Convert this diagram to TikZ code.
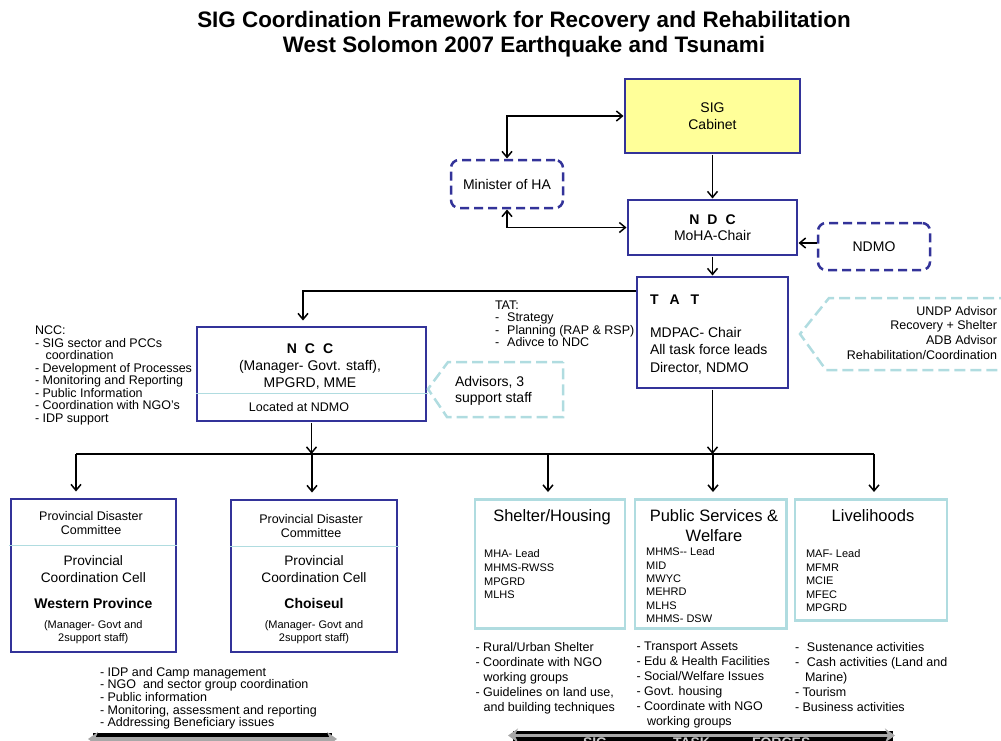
\documentclass[tikz,border=0pt]{standalone}
\usepackage{fontspec}
\setmainfont{Liberation Sans}
\usetikzlibrary{positioning,arrows.meta,calc}
\definecolor{ncblue}{HTML}{333399}
\definecolor{tfblue}{HTML}{B0DCE0}
\definecolor{cabyellow}{HTML}{FFFF99}
\definecolor{bargray}{HTML}{A8A8A8}
\definecolor{tflabel}{HTML}{C8C8C8}
\newcommand{\fsz}[2]{\fontsize{#1}{#2}\selectfont}

\begin{document}
\begin{tikzpicture}[x=1pt,y=-1pt,>={Straight Barb[length=6pt,width=10pt]},
   every node/.style={inner sep=0pt,outer sep=0pt},
   orgbox/.style={draw=ncblue,line width=2.5pt,outer sep=1.5pt},
   dashbox/.style={draw=ncblue,line width=2.5pt,dash pattern=on 9pt off 5pt,
      rounded corners=8pt,outer sep=1.5pt},
   tfbox/.style={draw=tfblue,line width=2.5pt,outer sep=1.5pt},
   advline/.style={draw=tfblue,line width=2.5pt,dash pattern=on 11pt off 5pt},
   divider/.style={draw=tfblue,line width=1pt},
   conn/.style={line width=1.5pt},
   graybar/.style={draw=bargray,line width=3.5pt,
      arrows={Stealth[length=10pt,width=14pt]-Stealth[length=10pt,width=14pt]}}]
  \useasboundingbox (0,0) rectangle (1001,740);
  \clip (0,0) rectangle (1001,740);

  \node (title) [anchor=north,align=center,font=\fsz{22.4}{25}\bfseries] at (524,11)
    {SIG Coordination Framework for Recovery and Rehabilitation\\West Solomon 2007 Earthquake and Tsunami};

  \node (cab) [orgbox,fill=cabyellow,minimum width=175pt,minimum height=74pt,
    align=center,font=\fsz{14}{17}] at (712.5,116) {SIG\\Cabinet};
  \node (mha) [dashbox,minimum width=112pt,minimum height=48pt,font=\fsz{14}{17}]
    at (507,184) {Minister of HA};
  \node (ndc) [orgbox,minimum width=169pt,minimum height=55pt,align=center,
    font=\fsz{14}{16}] at (712.5,227.5) {\textbf{N\hspace{8pt}D\hspace{8pt}C}\\MoHA-Chair};
  \node (ndmo) [dashbox,minimum width=112pt,minimum height=47pt,font=\fsz{14}{17}]
    at (874,246.5) {NDMO};
  \node (tat) [orgbox,minimum width=151pt,minimum height=111pt] at (712.5,332.5) {};
  \node (tattxt) [anchor=north west,align=left,font=\fsz{14}{17.5}] at (650,295)
    {\textbf{T\hspace{11pt}A\hspace{11pt}T}\\[15pt]MDPAC- Chair\\All task force leads\\Director, NDMO};

  \node (ncc) [orgbox,minimum width=229pt,minimum height=94pt] at (311.5,374) {};
  \node (ncctxt) [anchor=north,align=center,font=\fsz{14}{17}] at (310,343.8)
    {\textbf{N\hspace{8pt}C\hspace{8pt}C}\\(Manager- Govt. staff),\\MPGRD, MME};
  \draw[divider] (ncc.west |- 0,393) -- (ncc.east |- 0,393);
  \node (nccloc) [anchor=north,font=\fsz{12.5}{15}] at (299,402.1) {Located at NDMO};

  \draw[advline] (563,362) -- (448,362) -- (428,389) -- (447,417) -- (563,417) -- cycle;
  \node (nccadv) [anchor=north west,align=left,font=\fsz{14}{16}] at (455,376.5)
    {Advisors, 3\\support staff};
  \draw[advline] (1010,298) -- (829,298) -- (800,334) -- (826,370) -- (1010,370);
  \node (tatadv) [anchor=north east,align=right,font=\fsz{12.5}{14.9}] at (997,306)
    {UNDP Advisor\\Recovery + Shelter\\ADB Advisor\\Rehabilitation/Coordination};

  \node (ncclist) [anchor=north west,align=left,font=\fsz{12.5}{12.5}] at (35,326.1)
    {NCC:\\- SIG sector and PCCs\\\hspace*{10.5pt}coordination\\- Development of Processes\\- Monitoring and Reporting\\- Public Information\\- Coordination with NGO’s\\- IDP support};
  \node (tatlist) [anchor=north west,align=left,font=\fsz{12.5}{12.6}] at (495,300.4)
    {TAT:\\-\hspace{8pt}Strategy\\-\hspace{8pt}Planning (RAP \& RSP)\\-\hspace{8pt}Adivce to NDC};

  \coordinate (tatbend) at (303,291);
  \draw[conn,<->] (mha.north) |- (cab.west);
  \draw[conn,<->] (mha.south) |- (ndc.west);
  \draw[conn,->] (cab) -- (ndc);
  \draw[conn,->] (ndmo.west |- 0,243) -- (ndc.east |- 0,243);
  \draw[conn,->] (ndc) -- (tat);
  \draw[conn,->,shorten >=5pt] (tat.west |- tatbend) -| (ncc.north -| tatbend);

  \node (pwest) [orgbox,minimum width=165pt,minimum height=153pt] at (93.3,575.5) {};
  \node (pchoi) [orgbox,minimum width=166pt,minimum height=152pt] at (314.2,576) {};
  \node (shel) [tfbox,minimum width=150pt,minimum height=129pt] at (550,564) {};
  \node (pubs) [tfbox,minimum width=151.5pt,minimum height=129pt] at (710.5,564) {};
  \node (live) [tfbox,minimum width=152pt,minimum height=121pt] at (871,560) {};

  \coordinate (busw) at (76,454);
  \coordinate (busc) at (312,454);
  \coordinate (buss) at (548,454);
  \coordinate (busp) at (713,454);
  \coordinate (buse) at (874,454);
  \draw[conn] (busw) -- (buse);
  \draw[conn,->] (ncc.south) -- (ncc.south |- busw);
  \draw[conn,->] (tat.south) -- (tat.south |- busw);
  \draw[conn,->,shorten >=6pt] (busw) -- (pwest.north -| busw);
  \draw[conn,->,shorten >=6pt] (busc) -- (pchoi.north -| busc);
  \draw[conn,->,shorten >=6pt] (buss) -- (shel.north -| buss);
  \draw[conn,->,shorten >=6pt] (busp) -- (pubs.north -| busp);
  \draw[conn,->,shorten >=6pt] (buse) -- (live.north -| buse);

  \node (pwpdc) [anchor=north,align=center,font=\fsz{12.5}{14}] at (91,511.1)
    {Provincial Disaster\\Committee};
  \draw[divider] (pwest.west |- 0,545) -- (pwest.east |- 0,545);
  \node (pwpcc) [anchor=north,align=center,font=\fsz{13.7}{16.3}] at (93.3,555.9)
    {Provincial\\Coordination Cell};
  \node (pwname) [anchor=north,font=\fsz{14}{16}\bfseries] at (93.3,598.1) {Western Province};
  \node (pwstaff) [anchor=north,align=center,font=\fsz{11}{13.4}] at (93.3,620.2)
    {(Manager- Govt and\\2support staff)};

  \node (pcpdc) [anchor=north,align=center,font=\fsz{12.5}{14.3}] at (311,514.4)
    {Provincial Disaster\\Committee};
  \draw[divider] (pchoi.west |- 0,546) -- (pchoi.east |- 0,546);
  \node (pcpcc) [anchor=north,align=center,font=\fsz{13.7}{16.3}] at (314,555.9)
    {Provincial\\Coordination Cell};
  \node (pcname) [anchor=north,font=\fsz{14}{16}\bfseries] at (314,598.1) {Choiseul};
  \node (pcstaff) [anchor=north,align=center,font=\fsz{11}{13.4}] at (314,620.2)
    {(Manager- Govt and\\2support staff)};

  \node (sheltitle) [anchor=north,font=\fsz{16.5}{20}] at (552,509.9) {Shelter/Housing};
  \node (pubtitle) [anchor=north,align=center,font=\fsz{16.5}{20}] at (714,509.9)
    {Public Services \&\\Welfare};
  \node (livetitle) [anchor=north,font=\fsz{16.5}{20}] at (873,509.9) {Livelihoods};

  \node (shellist) [anchor=north west,align=left,font=\fsz{11}{13.7}] at (484.2,549.9)
    {MHA- Lead\\MHMS-RWSS\\MPGRD\\MLHS};
  \node (publist) [anchor=north west,align=left,font=\fsz{11}{13.35}] at (646.2,547.9)
    {MHMS-{}- Lead\\MID\\MWYC\\MEHRD\\MLHS\\MHMS- DSW};
  \node (livelist) [anchor=north west,align=left,font=\fsz{11}{13.4}] at (806,549.9)
    {MAF- Lead\\MFMR\\MCIE\\MFEC\\MPGRD};

  \node (shelact) [anchor=north west,align=left,font=\fsz{12.5}{15}] at (475.6,642.1)
    {- Rural/Urban Shelter\\- Coordinate with NGO\\\hspace*{8pt}working groups\\- Guidelines on land use,\\\hspace*{8pt}and building techniques};
  \node (pubact) [anchor=north west,align=left,font=\fsz{12.5}{15}] at (636.5,642.1)
    {- Transport Assets\\- Edu \& Health Facilities\\- Social/Welfare Issues\\- Govt. housing\\- Coordinate with NGO\\\hspace*{10.5pt}working groups};
  \node (liveact) [anchor=north west,align=left,font=\fsz{12.5}{15}] at (795,642.1)
    {-\hspace{7.8pt}Sustenance activities\\-\hspace{7.8pt}Cash activities (Land and\\\hspace*{10pt}Marine)\\- Tourism\\- Business activities};
  \node (pccact) [anchor=north west,align=left,font=\fsz{12.5}{12.65}] at (100,667.1)
    {- IDP and Camp management\\- NGO\ \ and sector group coordination\\- Public information\\- Monitoring, assessment and reporting\\- Addressing Beneficiary issues};

  \fill[black] (93,733) rectangle (332,745);
  \draw[graybar] (88,739) -- (337,739);
  \fill[black] (513,731) rectangle (893,745);
  \draw[graybar] (508,735.5) -- (895,735.5);
  \node (sigtf) [anchor=north west,font=\fsz{14}{16}\bfseries,text=tflabel] at (583,737.5) {SIG};
  \node (tasktf) [anchor=north west,font=\fsz{14}{16}\bfseries,text=tflabel] at (673,737.5) {TASK};
  \node (forcestf) [anchor=north west,font=\fsz{14}{16}\bfseries,text=tflabel] at (752,737.5) {FORCES};
\end{tikzpicture}
\end{document}
